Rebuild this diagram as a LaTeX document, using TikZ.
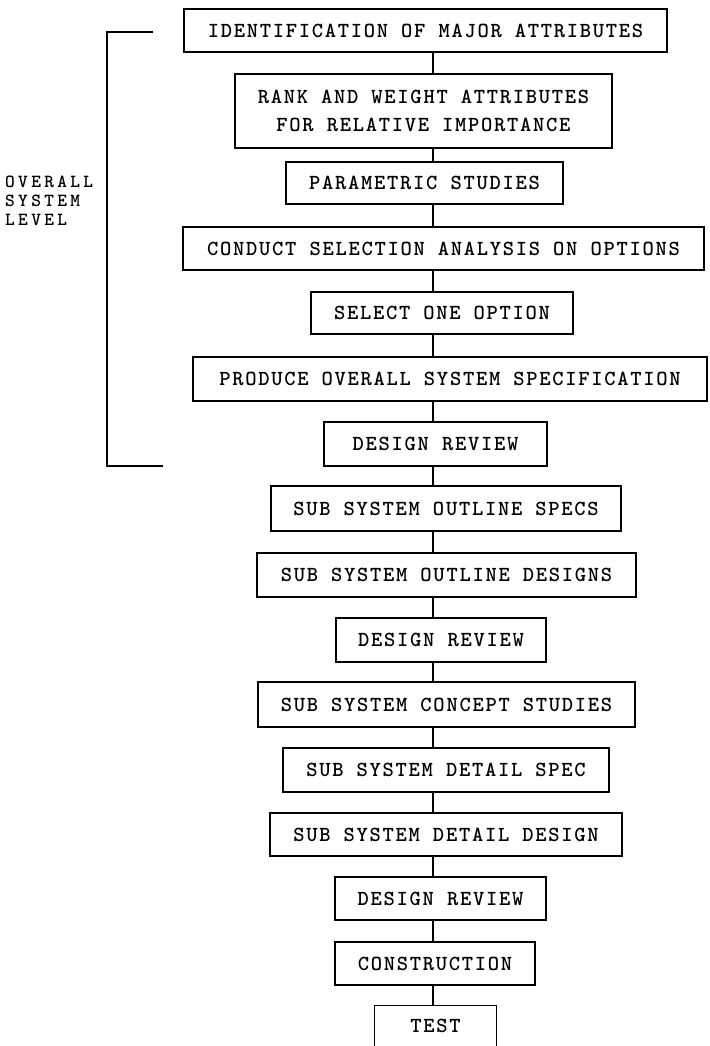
\documentclass[tikz,border=0pt]{standalone}
\usepackage{fontspec}
\usepackage{tikz}
\newfontfamily\twfont[LetterSpace=8]{lmmonolt10-bold.otf}
\newfontfamily\lvlfont[LetterSpace=18]{lmmonolt10-bold.otf}
\newcommand{\boxfont}[0]{\twfont\fontsize{21.5}{28}\selectfont}

\begin{document}
\begin{tikzpicture}[x=1pt,y=-1pt,
	blk/.style={draw, line width=1.4pt, inner sep=0pt, font=\boxfont, align=center},
	lbl/.style={anchor=west, inner sep=0pt, font=\lvlfont\fontsize{18.5}{19}\selectfont},
	link/.style={line width=1.4pt}]

	%Page of 709 x 1046, y running downwards
	\useasboundingbox (0,0) rectangle (709,1046);

	%Overall system level stages
	\node[blk, minimum width=483, minimum height=43] (ident) at (425.5,30.5) {IDENTIFICATION OF MAJOR ATTRIBUTES};
	\node[blk, minimum width=377, minimum height=74] (rank) at (423.5,111) {RANK AND WEIGHT ATTRIBUTES\\FOR RELATIVE IMPORTANCE};
	\node[blk, minimum width=277, minimum height=42] (param) at (424.5,183) {PARAMETRIC STUDIES};
	\node[blk, minimum width=521, minimum height=43] (conduct) at (443.5,248.5) {CONDUCT SELECTION ANALYSIS ON OPTIONS};
	\node[blk, minimum width=262, minimum height=42] (select) at (442,313) {SELECT ONE OPTION};
	\node[blk, minimum width=514, minimum height=44] (produce) at (450,379) {PRODUCE OVERALL SYSTEM SPECIFICATION};
	\node[blk, minimum width=223, minimum height=44] (review1) at (435.5,444) {DESIGN REVIEW};

	%Sub system stages
	\node[blk, minimum width=350, minimum height=45] (outspec) at (446,508.5) {SUB SYSTEM OUTLINE SPECS};
	\node[blk, minimum width=379, minimum height=44] (outdes) at (446.5,575) {SUB SYSTEM OUTLINE DESIGNS};
	\node[blk, minimum width=210, minimum height=44] (review2) at (441,640) {DESIGN REVIEW};
	\node[blk, minimum width=377, minimum height=45] (concept) at (446.5,704.5) {SUB SYSTEM CONCEPT STUDIES};
	\node[blk, minimum width=326, minimum height=44] (detspec) at (446,770) {SUB SYSTEM DETAIL SPEC};
	\node[blk, minimum width=352, minimum height=43] (detdes) at (446,834.5) {SUB SYSTEM DETAIL DESIGN};
	\node[blk, minimum width=211, minimum height=43] (review3) at (440.5,898.5) {DESIGN REVIEW};
	\node[blk, minimum width=200, minimum height=43] (constr) at (435,963.5) {CONSTRUCTION};

	%Last box runs off the page
	\node[blk, draw=none, minimum width=121, minimum height=40] (test) at (435.5,1026) {TEST};
	\draw[link] (test.south west) |- (test.north east) -- (test.south east);

	%Vertical chain through all stages
	\coordinate (spine) at (433,0);
	\draw[link] (ident.south -| spine) -- (rank.north -| spine);
	\draw[link] (rank.south -| spine) -- (param.north -| spine);
	\draw[link] (param.south -| spine) -- (conduct.north -| spine);
	\draw[link] (conduct.south -| spine) -- (select.north -| spine);
	\draw[link] (select.south -| spine) -- (produce.north -| spine);
	\draw[link] (produce.south -| spine) -- (review1.north -| spine);
	\draw[link] (review1.south -| spine) -- (outspec.north -| spine);
	\draw[link] (outspec.south -| spine) -- (outdes.north -| spine);
	\draw[link] (outdes.south -| spine) -- (review2.north -| spine);
	\draw[link] (review2.south -| spine) -- (concept.north -| spine);
	\draw[link] (concept.south -| spine) -- (detspec.north -| spine);
	\draw[link] (detspec.south -| spine) -- (detdes.north -| spine);
	\draw[link] (detdes.south -| spine) -- (review3.north -| spine);
	\draw[link] (review3.south -| spine) -- (constr.north -| spine);
	\draw[link] (constr.south -| spine) -- (test.north -| spine);

	%Bracket for the overall system level
	\coordinate (brtop) at (153,32);
	\coordinate (brbot) at (163,466);
	\draw[link] (brtop) -- ++(-46,0) |- (brbot);
	\node[lbl] (level1) at (5,182) {OVERALL};
	\node[lbl] (level2) at (5,201) {SYSTEM};
	\node[lbl] (level3) at (5,220) {LEVEL};

\end{tikzpicture}
\end{document}
